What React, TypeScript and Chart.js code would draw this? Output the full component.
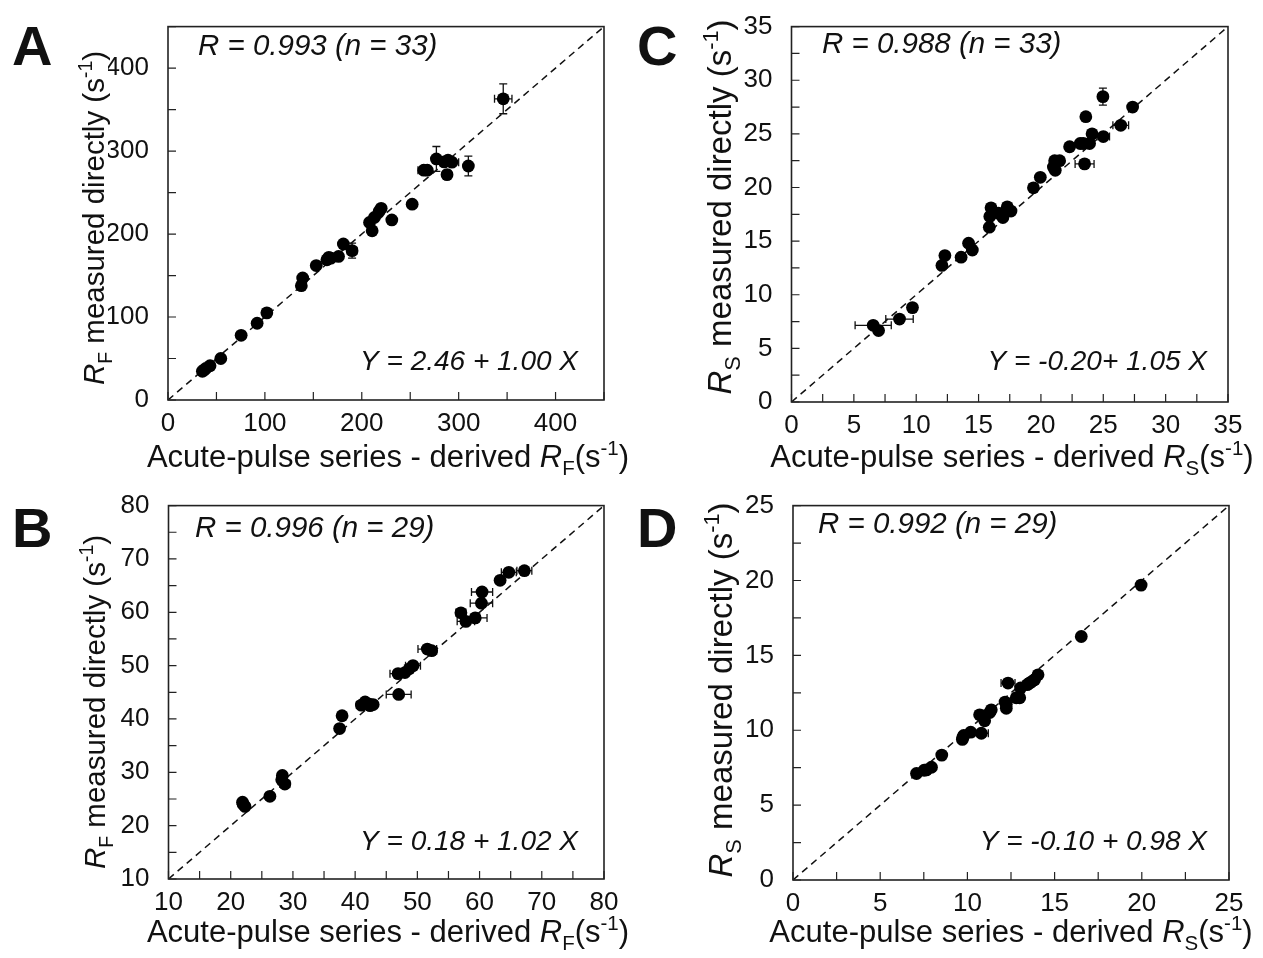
import React, { useEffect, useRef } from 'react';
import { Chart, registerables } from 'chart.js';

Chart.register(...registerables);

const FONT = '"Liberation Sans", Arial, Helvetica, sans-serif';

// ---------- Panel A : R_F (s^-1), 33 points ----------
const aX = [35.5, 37, 39, 43.4, 54.5, 75.5, 92, 102, 137.6, 139, 153, 164, 166, 176, 181, 190, 208, 210.7, 213, 218, 220, 231, 252, 264, 267.6, 277, 288, 289, 293, 310, 346, 168, 285];
const aY = [34.6, 36, 38, 41.3, 50, 78, 92.5, 105, 137.8, 147, 162, 169, 172, 173, 188, 180, 214, 204, 220, 227.5, 231, 217, 236, 277, 277, 290.5, 271.6, 289, 286.6, 282, 363, 171, 287];
const aXErr = [0, 0, 0, 0, 0, 0, 0, 0, 0, 0, 0, 0, 0, 0, 0, 5, 0, 0, 0, 0, 0, 0, 0, 6, 0, 4, 0, 0, 7, 0, 9, 0, 0];
const aYErr = [0, 0, 0, 0, 0, 0, 0, 0, 0, 0, 4, 0, 0, 0, 0, 9, 0, 0, 0, 0, 0, 0, 0, 0, 0, 15, 5, 0, 0, 12, 18, 0, 0];
const aTickLabels = [0, 100, 200, 300, 400];

// ---------- Panel B : R_F (s^-1), 29 points ----------
const bX = [21.9, 22.3, 22.0, 26.3, 28.3, 28.2, 28.7, 37.5, 37.9, 41.0, 41.6, 42.3, 42.9, 42.4, 47.0, 46.9, 48.0, 48.7, 49.3, 51.6, 52.3, 57.0, 57.8, 59.3, 60.3, 60.4, 63.3, 64.7, 67.2];
const bY = [24.4, 23.6, 24.0, 25.5, 29.4, 28.6, 27.8, 38.2, 40.6, 42.6, 43.2, 42.8, 42.7, 42.5, 44.6, 48.5, 48.7, 49.4, 50.0, 53.1, 52.8, 59.9, 58.3, 58.95, 61.7, 63.8, 66.0, 67.5, 67.8];
const bXErr = [0, 0, 0, 0, 0, 0, 0.8, 0, 0, 0.8, 0, 0, 0, 0, 2.0, 1.3, 0, 0, 1.2, 1.5, 0.8, 0.8, 1.4, 1.9, 1.8, 1.7, 0.5, 1.2, 1.2];
const bYErr = [0, 0, 0, 0, 0, 0, 0, 0, 0, 0, 0, 0, 0, 0, 0, 0, 0, 0, 0, 0, 0, 0, 0, 0, 0, 0, 0, 0, 0];
const bTickLabels = [10, 20, 30, 40, 50, 60, 70, 80];

// ---------- Panel C : R_S (s^-1), 33 points ----------
const cX = [6.55, 6.98, 8.66, 9.7, 12.06, 12.3, 13.6, 14.2, 14.5, 15.86, 16.0, 15.9, 16.6, 16.95, 17.3, 17.6, 19.4, 19.95, 21.0, 21.15, 21.1, 21.5, 22.3, 23.15, 23.5, 23.9, 23.6, 24.1, 25.0, 24.97, 26.4, 27.35, 23.4];
const cY = [7.15, 6.66, 7.73, 8.8, 12.73, 13.65, 13.5, 14.8, 14.17, 16.3, 18.1, 17.3, 17.6, 17.2, 18.2, 17.8, 19.97, 20.95, 21.9, 21.6, 22.5, 22.5, 23.8, 24.1, 22.2, 24.1, 26.6, 25.0, 24.75, 28.47, 25.8, 27.5, 24.1];
const cXErr = [1.45, 0, 1.1, 0, 0, 0, 0, 0, 0, 0, 0, 0, 0, 0.3, 0, 0, 0, 0, 0, 0, 0, 0, 0, 0, 0.76, 0, 0, 0, 0.5, 0, 0.63, 0, 0];
const cYErr = [0, 0, 0, 0, 0, 0, 0, 0, 0, 0, 0, 0, 0, 0, 0, 0, 0, 0, 0, 0, 0, 0, 0, 0, 0, 0, 0.3, 0, 0, 0.8, 0, 0, 0];
const cTickLabels = [0, 5, 10, 15, 20, 25, 30, 35];

// ---------- Panel D : R_S (s^-1), 29 points ----------
const dX = [7.08, 7.52, 7.65, 7.94, 8.53, 9.71, 9.79, 9.75, 10.19, 10.8, 10.7, 10.9, 10.99, 11.28, 11.37, 12.16, 12.23, 12.23, 12.33, 12.8, 13.0, 13.05, 13.43, 13.57, 13.66, 13.85, 14.05, 16.53, 19.96];
const dY = [7.11, 7.33, 7.35, 7.53, 8.34, 9.39, 9.65, 9.54, 9.87, 9.8, 11.03, 10.95, 10.63, 11.18, 11.36, 11.88, 11.47, 11.73, 13.15, 12.17, 12.17, 12.82, 13.04, 13.15, 13.22, 13.37, 13.7, 16.26, 19.69];
const dXErr = [0, 0, 0, 0, 0.2, 0, 0, 0, 0, 0.4, 0, 0, 0, 0, 0, 0, 0, 0, 0.4, 0, 0, 0, 0, 0, 0.3, 0, 0, 0, 0];
const dYErr = [0, 0, 0, 0, 0, 0, 0, 0, 0, 0, 0, 0, 0, 0, 0, 0, 0, 0, 0, 0, 0, 0, 0, 0, 0, 0, 0, 0, 0];
const dTickLabels = [0, 5, 10, 15, 20, 25];

type Seg = { t: string; italic?: boolean; scale?: number; dy?: number };

function axisSegs(prefix: string, sym: string, suffix: string): Seg[] {
  return [
    { t: prefix },
    { t: 'R', italic: true },
    { t: sym, scale: 0.66, dy: 0.26 },
    { t: suffix },
    { t: '-1', scale: 0.66, dy: -0.4 },
    { t: ')' },
  ];
}

function drawSegs(ctx: CanvasRenderingContext2D, segs: Seg[], size: number) {
  const fontOf = (s: Seg) => `${s.italic ? 'italic ' : ''}${(size * (s.scale || 1)).toFixed(1)}px ${FONT}`;
  let total = 0;
  for (const s of segs) {
    ctx.font = fontOf(s);
    total += ctx.measureText(s.t).width;
  }
  let x = -total / 2;
  ctx.textAlign = 'left';
  ctx.textBaseline = 'alphabetic';
  for (const s of segs) {
    ctx.font = fontOf(s);
    ctx.fillText(s.t, x, (s.dy || 0) * size);
    x += ctx.measureText(s.t).width;
  }
}

type Panel = {
  letter: string;
  xs: number[];
  ys: number[];
  xErr: number[];
  yErr: number[];
  min: number;
  max: number;
  step: number;
  labels: number[];
  sym: string;
  rText: string;
  eqText: string;
  canvasLeft: number;
  canvasTop: number;
  area: { l: number; r: number; t: number; b: number };
  letterPos: [number, number];
  rPos: [number, number];
  eqPos: [number, number];
  xTitle: [number, number, number];
  yTitle: [number, number, number];
};

const W = 631;
const H = 479;

const panels: Panel[] = [
  {
    letter: 'A', xs: aX, ys: aY, xErr: aXErr, yErr: aYErr, min: 0, max: 450, step: 50, labels: aTickLabels, sym: 'F',
    rText: 'R = 0.993 (n = 33)', eqText: 'Y = 2.46 + 1.00 X',
    canvasLeft: 0, canvasTop: 0, area: { l: 168, r: 604, t: 20, b: 400 },
    letterPos: [12, 65], rPos: [198, 55], eqPos: [578, 370], xTitle: [388, 467, 31], yTitle: [104, 218, 29.5],
  },
  {
    letter: 'C', xs: cX, ys: cY, xErr: cXErr, yErr: cYErr, min: 0, max: 35, step: 2.5, labels: cTickLabels, sym: 'S',
    rText: 'R = 0.988 (n = 33)', eqText: 'Y = -0.20+ 1.05 X',
    canvasLeft: 631, canvasTop: 0, area: { l: 160.5, r: 597, t: 21, b: 402 },
    letterPos: [6, 65], rPos: [191, 53], eqPos: [576, 370], xTitle: [381, 467, 31], yTitle: [100, 207, 33],
  },
  {
    letter: 'B', xs: bX, ys: bY, xErr: bXErr, yErr: bYErr, min: 10, max: 80, step: 5, labels: bTickLabels, sym: 'F',
    rText: 'R = 0.996 (n = 29)', eqText: 'Y = 0.18 + 1.02 X',
    canvasLeft: 0, canvasTop: 479, area: { l: 168.5, r: 604, t: 21, b: 400 },
    letterPos: [12, 68], rPos: [195, 58], eqPos: [578, 371], xTitle: [388, 463, 31], yTitle: [105, 223, 29.5],
  },
  {
    letter: 'D', xs: dX, ys: dY, xErr: dXErr, yErr: dYErr, min: 0, max: 25, step: 2.5, labels: dTickLabels, sym: 'S',
    rText: 'R = 0.992 (n = 29)', eqText: 'Y = -0.10 + 0.98 X',
    canvasLeft: 631, canvasTop: 479, area: { l: 162, r: 598, t: 21, b: 401 },
    letterPos: [6, 68], rPos: [187, 54], eqPos: [576, 371], xTitle: [380, 463, 31], yTitle: [101, 211, 33],
  },
];

function PanelChart({ p }: { p: Panel }) {
  const ref = useRef<HTMLCanvasElement | null>(null);
  useEffect(() => {
    const canvas = ref.current;
    if (!canvas) return;
    const pts = p.xs.map((x, i) => ({ x, y: p.ys[i] }));
    const isLabel = (v: number) => p.labels.some((l) => Math.abs(l - v) < 1e-6);

    const decorations = {
      id: 'decor' + p.letter,
      beforeDatasetsDraw(chart: any) {
        const ctx = chart.ctx as CanvasRenderingContext2D;
        const xs = chart.scales.x;
        const ys = chart.scales.y;
        ctx.save();
        ctx.strokeStyle = '#111';
        ctx.lineWidth = 1.3;
        const cap = 4;
        p.xs.forEach((xv, i) => {
          const px = xs.getPixelForValue(xv);
          const py = ys.getPixelForValue(p.ys[i]);
          const ex = p.xErr[i];
          const ey = p.yErr[i];
          if (ex > 0) {
            const x1 = xs.getPixelForValue(xv - ex);
            const x2 = xs.getPixelForValue(xv + ex);
            ctx.beginPath();
            ctx.moveTo(x1, py); ctx.lineTo(x2, py);
            ctx.moveTo(x1, py - cap); ctx.lineTo(x1, py + cap);
            ctx.moveTo(x2, py - cap); ctx.lineTo(x2, py + cap);
            ctx.stroke();
          }
          if (ey > 0) {
            const y1 = ys.getPixelForValue(p.ys[i] - ey);
            const y2 = ys.getPixelForValue(p.ys[i] + ey);
            ctx.beginPath();
            ctx.moveTo(px, y1); ctx.lineTo(px, y2);
            ctx.moveTo(px - cap, y1); ctx.lineTo(px + cap, y1);
            ctx.moveTo(px - cap, y2); ctx.lineTo(px + cap, y2);
            ctx.stroke();
          }
        });
        ctx.restore();
      },
      afterDraw(chart: any) {
        const ctx = chart.ctx as CanvasRenderingContext2D;
        const a = chart.chartArea;
        const xs = chart.scales.x;
        const ys = chart.scales.y;
        ctx.save();
        // frame
        ctx.strokeStyle = '#222';
        ctx.lineWidth = 1.6;
        ctx.strokeRect(a.left, a.top, a.right - a.left, a.bottom - a.top);
        // inward tick marks
        ctx.lineWidth = 1.2;
        ctx.beginPath();
        xs.ticks.forEach((t: any) => {
          const x = xs.getPixelForValue(t.value);
          ctx.moveTo(x, a.bottom);
          ctx.lineTo(x, a.bottom - 8);
        });
        ys.ticks.forEach((t: any) => {
          const y = ys.getPixelForValue(t.value);
          ctx.moveTo(a.left, y);
          ctx.lineTo(a.left + 8, y);
        });
        ctx.stroke();

        ctx.fillStyle = '#111';
        // panel letter
        ctx.font = `bold 56px ${FONT}`;
        ctx.textAlign = 'left';
        ctx.textBaseline = 'alphabetic';
        ctx.fillText(p.letter, p.letterPos[0], p.letterPos[1]);
        // R text
        ctx.font = `italic 29.5px ${FONT}`;
        ctx.fillText(p.rText, p.rPos[0], p.rPos[1]);
        // equation
        ctx.font = `italic 28px ${FONT}`;
        ctx.textAlign = 'right';
        ctx.fillText(p.eqText, p.eqPos[0], p.eqPos[1]);

        // x title
        ctx.save();
        ctx.translate(p.xTitle[0], p.xTitle[1]);
        drawSegs(ctx, axisSegs('Acute-pulse series - derived ', p.sym, '(s'), p.xTitle[2]);
        ctx.restore();
        // y title
        ctx.save();
        ctx.translate(p.yTitle[0], p.yTitle[1]);
        ctx.rotate(-Math.PI / 2);
        drawSegs(ctx, axisSegs('', p.sym, ' measured directly (s'), p.yTitle[2]);
        ctx.restore();
        ctx.restore();
      },
    };

    const tickCfg = {
      stepSize: p.step,
      autoSkip: false,
      maxRotation: 0,
      minRotation: 0,
      color: '#111',
      font: { family: FONT, size: 26 },
      callback: (v: any) => (isLabel(Number(v)) ? String(v) : ''),
    };

    const chart = new Chart(canvas, {
      type: 'scatter',
      data: {
        datasets: [
          {
            data: pts,
            backgroundColor: '#000',
            borderColor: '#000',
            pointRadius: 6.4,
            pointHoverRadius: 6.4,
            borderWidth: 0,
            order: 1,
          } as any,
          {
            data: [{ x: p.min, y: p.min }, { x: p.max, y: p.max }],
            showLine: true,
            borderColor: '#111',
            borderWidth: 1.5,
            borderDash: [7, 5],
            pointRadius: 0,
            fill: false,
            order: 2,
          } as any,
        ],
      },
      options: {
        responsive: false,
        animation: false,
        devicePixelRatio: 1,
        events: [],
        layout: {
          padding: {
            left: p.area.l - 60,
            right: W - p.area.r,
            top: p.area.t,
            bottom: H - p.area.b - 40,
          },
        },
        plugins: { legend: { display: false }, tooltip: { enabled: false } },
        scales: {
          x: {
            type: 'linear',
            position: 'bottom',
            min: p.min,
            max: p.max,
            grid: { display: false },
            border: { display: false },
            ticks: { ...tickCfg, padding: 0 },
            afterFit: (s: any) => { s.height = 40; },
          },
          y: {
            type: 'linear',
            position: 'left',
            min: p.min,
            max: p.max,
            grid: { display: false },
            border: { display: false },
            ticks: { ...tickCfg, padding: 11 },
            afterFit: (s: any) => { s.width = 60; },
          },
        },
      } as any,
      plugins: [decorations],
    });
    return () => chart.destroy();
  }, [p]);

  return (
    <canvas
      ref={ref}
      width={W}
      height={H}
      style={{ position: 'absolute', left: p.canvasLeft, top: p.canvasTop, width: W, height: H }}
    />
  );
}

export default function App() {
  return (
    <div style={{ position: 'absolute', left: 0, top: 0, width: 1263, height: 958, background: '#fff', overflow: 'hidden' }}>
      {panels.map((p) => (
        <PanelChart key={p.letter} p={p} />
      ))}
    </div>
  );
}
